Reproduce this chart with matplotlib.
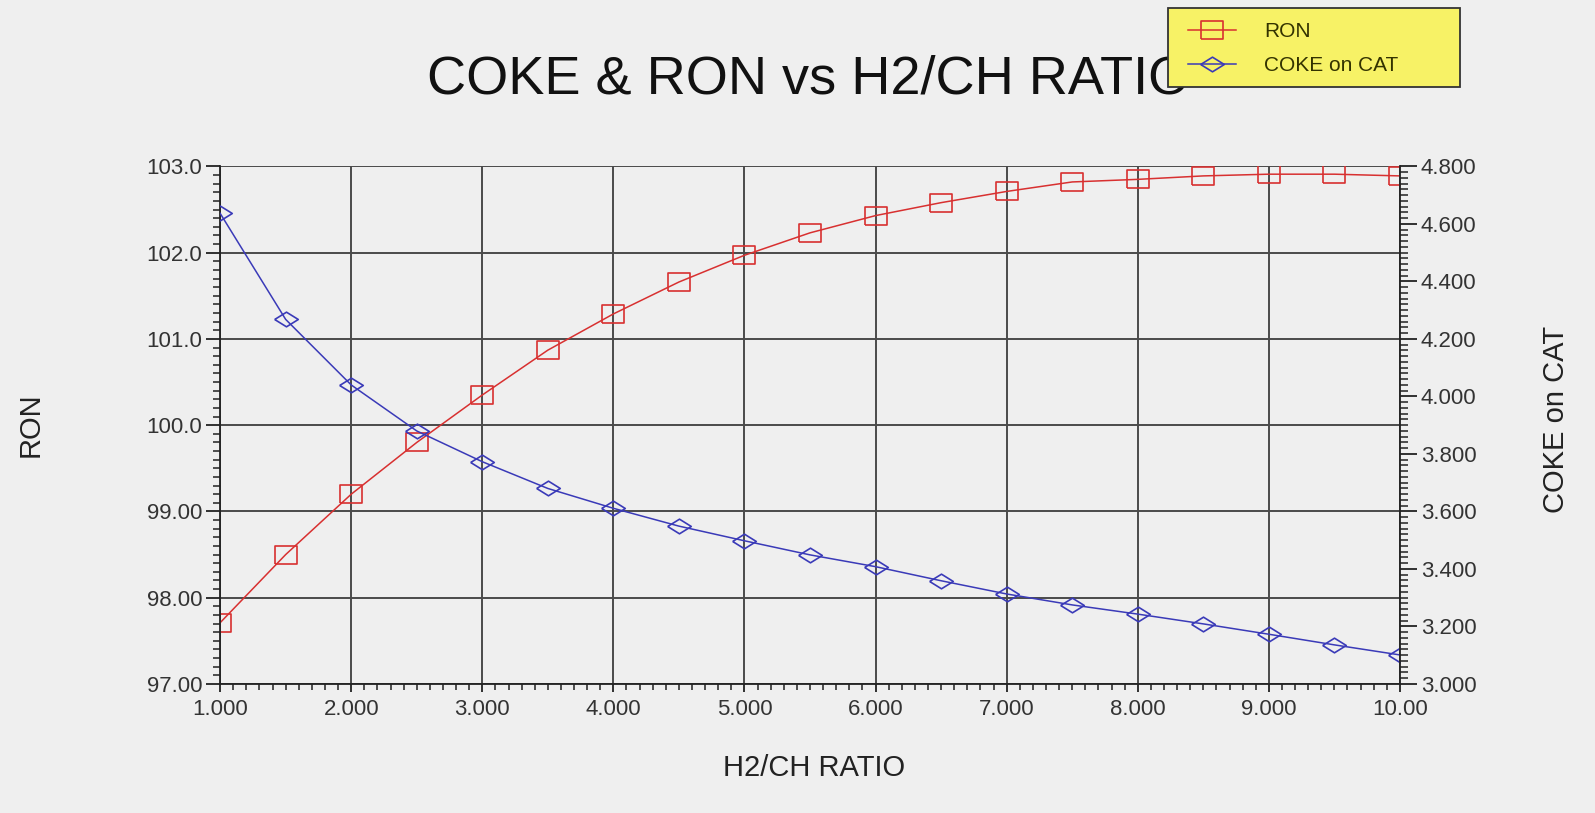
import numpy as np
import matplotlib
matplotlib.use('Agg')
import matplotlib.pyplot as plt
from matplotlib.patches import Rectangle
from matplotlib.ticker import MultipleLocator, FixedLocator

# H2/CH ratio (x) and the two series
ratio = [1.0, 1.5, 2.0, 2.5, 3.0, 3.5, 4.0, 4.5, 5.0, 5.5,
         6.0, 6.5, 7.0, 7.5, 8.0, 8.5, 9.0, 9.5, 10.0]
ron = [97.71, 98.50, 99.20, 99.80, 100.35, 100.87, 101.29, 101.66, 101.97, 102.23,
       102.43, 102.58, 102.71, 102.82, 102.85, 102.89, 102.91, 102.91, 102.89]
coke = [4.637, 4.268, 4.040, 3.880, 3.773, 3.680, 3.611, 3.549, 3.498, 3.449,
        3.408, 3.359, 3.313, 3.275, 3.243, 3.209, 3.173, 3.136, 3.101]

x_ticks = [1, 2, 3, 4, 5, 6, 7, 8, 9, 10]
x_labels = ['1.000', '2.000', '3.000', '4.000', '5.000', '6.000', '7.000', '8.000', '9.000', '10.00']
ron_ticks = [97, 98, 99, 100, 101, 102, 103]
ron_labels = ['97.00', '98.00', '99.00', '100.0', '101.0', '102.0', '103.0']
coke_ticks = [3.0, 3.2, 3.4, 3.6, 3.8, 4.0, 4.2, 4.4, 4.6, 4.8]
coke_labels = ['3.000', '3.200', '3.400', '3.600', '3.800', '4.000', '4.200', '4.400', '4.600', '4.800']

BG = '#efefef'
RED = '#d83030'
BLUE = '#3a3ab8'
TXT = '#333333'
AX = '#222222'

plt.rcParams['font.family'] = ['Liberation Sans', 'DejaVu Sans']

fig = plt.figure(figsize=(15.95, 8.13), dpi=100, facecolor=BG)
ax = fig.add_axes([0.138, 0.1587, 0.7397, 0.6366])
ax.set_facecolor(BG)
ax2 = ax.twinx()

rect = [(-1, -0.77), (1, -0.77), (1, 0.77), (-1, 0.77), (-1, -0.77)]
diamond = [(-1, 0), (0, 0.62), (1, 0), (0, -0.62), (-1, 0)]

l1, = ax.plot(ratio, ron, color=RED, lw=1.1, marker=rect, ms=16,
              mfc='none', mec=RED, mew=1.2, label='RON')
l2, = ax2.plot(ratio, coke, color=BLUE, lw=1.1, marker=diamond, ms=17,
               mfc='none', mec=BLUE, mew=1.2, label='COKE on CAT')

ax.set_xlim(1, 10)
ax.set_ylim(97, 103)
ax2.set_ylim(3.0, 4.8)

ax.xaxis.set_major_locator(FixedLocator(x_ticks))
ax.set_xticklabels(x_labels)
ax.xaxis.set_minor_locator(MultipleLocator(0.1))
ax.yaxis.set_major_locator(FixedLocator(ron_ticks))
ax.set_yticklabels(ron_labels)
ax.yaxis.set_minor_locator(MultipleLocator(0.1))
ax2.yaxis.set_major_locator(FixedLocator(coke_ticks))
ax2.set_yticklabels(coke_labels)
ax2.yaxis.set_minor_locator(MultipleLocator(0.02))

ax.grid(True, which='major', color='#4a4a4a', lw=1.4)

for a in (ax, ax2):
    a.spines['top'].set_visible(False)
ax.spines['right'].set_visible(False)
ax2.spines['left'].set_visible(False)
ax2.spines['bottom'].set_visible(False)
for s in ('left', 'bottom'):
    ax.spines[s].set_color(AX)
    ax.spines[s].set_linewidth(1.3)
ax2.spines['right'].set_color(AX)
ax2.spines['right'].set_linewidth(1.3)

ax.tick_params(axis='y', which='major', direction='out', length=10, width=1.3,
               labelsize=16, labelcolor=TXT, color=AX, pad=3)
ax.tick_params(axis='y', which='minor', direction='out', length=5, width=1.1, color=AX)
ax.tick_params(axis='x', which='major', direction='out', length=6, width=1.3,
               labelsize=16, labelcolor=TXT, color=AX, pad=5)
ax.tick_params(axis='x', which='minor', direction='out', length=4, width=1.1, color=AX)
ax2.tick_params(which='major', direction='out', length=12, width=1.3,
                labelsize=16, labelcolor=TXT, color=AX, pad=3)
ax2.tick_params(which='minor', direction='out', length=6, width=1.1, color=AX)

fig.text(809 / 1595, 1 - 80 / 813, 'COKE & RON vs H2/CH RATIO', ha='center', va='center',
         fontsize=39, color='#111111')
fig.text(814 / 1595, 1 - 768 / 813, 'H2/CH RATIO', ha='center', va='center',
         fontsize=21, color=AX)
fig.text(31 / 1595, 1 - 425 / 813, 'RON', ha='center', va='center', rotation=90,
         fontsize=21, color=AX)
fig.text(1556 / 1595, 1 - 419 / 813, 'COKE on CAT', ha='center', va='center', rotation=90,
         fontsize=21, color=AX)

# yellow legend box, drawn separately from the legend entries
fig.patches.append(Rectangle((1168 / 1595, 1 - 87.5 / 813), 292 / 1595, 79.5 / 813,
                             transform=fig.transFigure, facecolor='#f7f266',
                             edgecolor='#333333', lw=1.3, zorder=4))
leg = fig.legend([l1, l2], ['RON', 'COKE on CAT'], loc='upper left',
                 bbox_to_anchor=(1188 / 1595, 1 - 22 / 813), borderaxespad=0,
                 borderpad=0, frameon=False, fontsize=15,
                 handlelength=2.3, handletextpad=1.35, labelspacing=0.72,
                 labelcolor='#333300')
leg.set_zorder(5)

fig.savefig('out.png', dpi=100, facecolor=BG)
